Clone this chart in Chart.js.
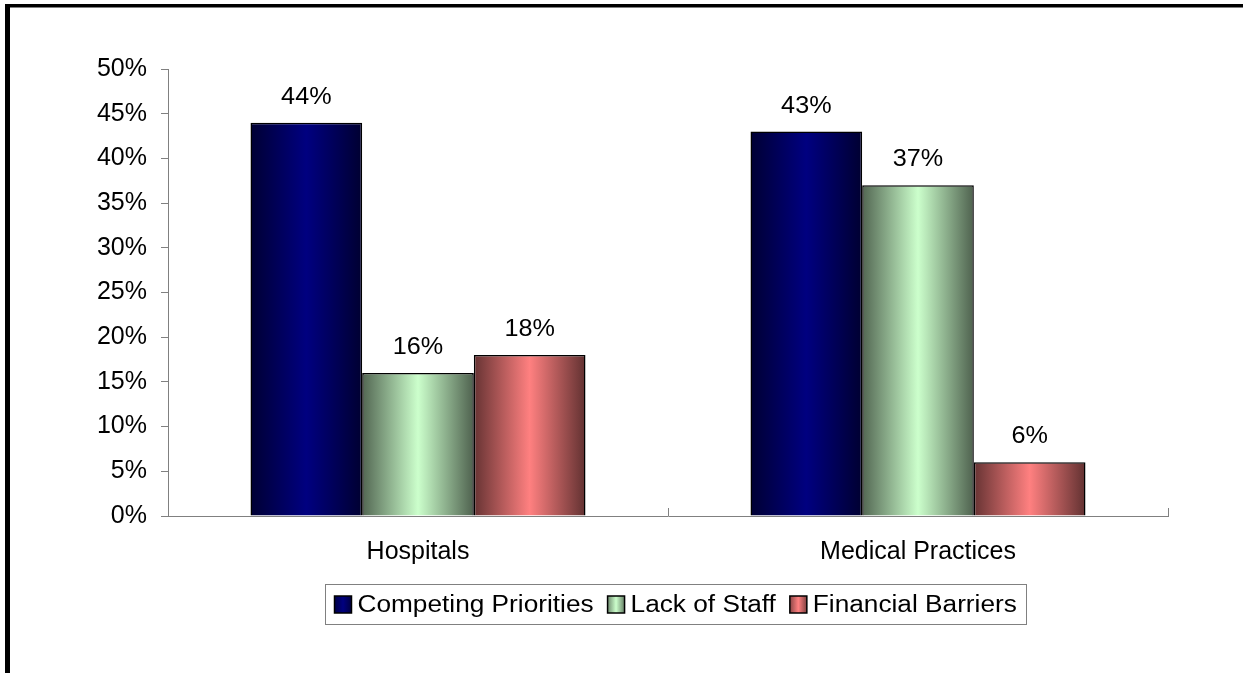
<!DOCTYPE html>
<html>
<head>
<meta charset="utf-8">
<script src="https://cdn.jsdelivr.net/npm/chart.js@4"></script>
<style>
  html, body { margin: 0; padding: 0; background: #fff; }
  #wrap { position: relative; width: 1243px; height: 673px; }
</style>
</head>
<body>
<div id="wrap"><canvas id="barCanvas" width="1243" height="673"></canvas></div>
<script>
const categories = ["Hospitals", "Medical Practices"];
const seriesNames = ["Competing Priorities", "Lack of Staff", "Financial Barriers"];
const competingPriorities = [44, 43];
const lackOfStaff = [16, 37];
const financialBarriers = [18, 6];
const seriesColors = ["#000080", "#CCFFCC", "#FF8080"];

const FONT = "'Liberation Sans', Arial, sans-serif";

function shade(hex, f) {
  const n = parseInt(hex.slice(1), 16);
  const r = Math.round(((n >> 16) & 255) * f);
  const g = Math.round(((n >> 8) & 255) * f);
  const b = Math.round((n & 255) * f);
  return `rgb(${r}, ${g}, ${b})`;
}

// dark edges, full colour in the middle
function barGradient(ctx, bar, color) {
  const left = bar.x - bar.width / 2;
  const right = bar.x + bar.width / 2;
  const g = ctx.createLinearGradient(left, 0, right, 0);
  g.addColorStop(0, shade(color, 0.4));
  g.addColorStop(0.5, color);
  g.addColorStop(1, shade(color, 0.38));
  return g;
}

// text drawn a little wider than the font's natural width
function wideText(ctx, text, x, y, sx) {
  ctx.save();
  ctx.translate(x, y);
  ctx.scale(sx, 1);
  ctx.fillText(text, 0, 0);
  ctx.restore();
}

const barShading = {
  id: 'barShading',
  beforeDatasetsDraw(chart) {
    chart.data.datasets.forEach((ds, i) => {
      chart.getDatasetMeta(i).data.forEach(bar => {
        bar.options = Object.assign({}, bar.options, {
          backgroundColor: barGradient(chart.ctx, bar, seriesColors[i])
        });
      });
    });
  }
};

const valueLabels = {
  id: 'valueLabels',
  afterDatasetsDraw(chart) {
    const ctx = chart.ctx;
    ctx.save();
    ctx.font = `24px ${FONT}`;
    ctx.fillStyle = '#000';
    ctx.textAlign = 'center';
    ctx.textBaseline = 'alphabetic';
    chart.data.datasets.forEach((ds, i) => {
      chart.getDatasetMeta(i).data.forEach((bar, j) => {
        wideText(ctx, ds.data[j] + '%', bar.x, bar.y - 19, 1.05);
      });
    });
    ctx.restore();
  }
};

// short marks between categories, pointing up into the plot
const categoryTicks = {
  id: 'categoryTicks',
  afterDraw(chart) {
    const x = chart.scales.x;
    const ctx = chart.ctx;
    const marks = [x.left, (x.getPixelForValue(0) + x.getPixelForValue(1)) / 2, x.right];
    ctx.save();
    ctx.strokeStyle = '#808080';
    ctx.lineWidth = 1;
    ctx.beginPath();
    marks.forEach(px => {
      const p = Math.round(px) + 0.5;
      ctx.moveTo(p, x.top - 8);
      ctx.lineTo(p, x.top);
    });
    ctx.stroke();
    ctx.restore();
  }
};

const boxedLegend = {
  id: 'boxedLegend',
  afterDraw(chart) {
    const ctx = chart.ctx;
    const sx = 1.14;
    ctx.save();
    ctx.font = `23px ${FONT}`;
    const sw = 17, gapText = 6, gapItem = 14, padL = 9, padR = 10;
    const widths = seriesNames.map(t => ctx.measureText(t).width * sx);
    let total = padL + padR;
    widths.forEach((w, i) => { total += sw + gapText + w + (i < widths.length - 1 ? gapItem : 0); });
    total = Math.round(total);
    const boxLeft = Math.round(675 - total / 2) + 0.5;
    const boxTop = 584.5, boxH = 40;
    ctx.fillStyle = '#fff';
    ctx.fillRect(boxLeft, boxTop, total, boxH);
    ctx.strokeStyle = '#808080';
    ctx.lineWidth = 1;
    ctx.strokeRect(boxLeft, boxTop, total, boxH);
    let cx = boxLeft + padL;
    const midY = boxTop + boxH / 2;
    seriesNames.forEach((name, i) => {
      const g = ctx.createLinearGradient(cx, 0, cx + sw, 0);
      g.addColorStop(0, shade(seriesColors[i], 0.55));
      g.addColorStop(0.5, seriesColors[i]);
      g.addColorStop(1, shade(seriesColors[i], 0.5));
      ctx.fillStyle = g;
      ctx.fillRect(cx, midY - sw / 2, sw, sw);
      ctx.strokeStyle = '#000';
      ctx.lineWidth = 1.5;
      ctx.strokeRect(cx, midY - sw / 2, sw, sw);
      ctx.fillStyle = '#000';
      ctx.textAlign = 'left';
      ctx.textBaseline = 'middle';
      wideText(ctx, name, cx + sw + gapText, midY + 1, sx);
      cx += sw + gapText + widths[i] + gapItem;
    });
    ctx.restore();
  }
};

const frame = {
  id: 'frame',
  beforeDraw(chart) {
    const ctx = chart.ctx;
    ctx.save();
    ctx.fillStyle = '#fff';
    ctx.fillRect(0, 0, chart.width, chart.height);
    ctx.restore();
  },
  afterDraw(chart) {
    const ctx = chart.ctx;
    ctx.save();
    ctx.fillStyle = '#000';
    ctx.fillRect(5, 4, chart.width - 5, 3.5);
    ctx.fillRect(5, 4, 5, chart.height - 4);
    ctx.restore();
  }
};

const data = {
  labels: categories,
  datasets: [
    { label: seriesNames[0], data: competingPriorities, backgroundColor: seriesColors[0] },
    { label: seriesNames[1], data: lackOfStaff, backgroundColor: seriesColors[1] },
    { label: seriesNames[2], data: financialBarriers, backgroundColor: seriesColors[2] }
  ].map(ds => Object.assign(ds, {
    borderColor: '#000',
    borderWidth: 1.5,
    borderSkipped: 'bottom',
    categoryPercentage: 0.67,
    barPercentage: 1
  }))
};

const config = {
  type: 'bar',
  data: data,
  options: {
    responsive: false,
    devicePixelRatio: 1,
    animation: false,
    layout: { padding: { top: 69, right: 75, bottom: 0, left: 0 } },
    plugins: {
      legend: { display: false },
      tooltip: { enabled: false }
    },
    scales: {
      x: {
        grid: { display: false, drawTicks: false },
        border: { display: true, color: '#808080', width: 1 },
        ticks: { color: '#000', padding: 21, font: { family: FONT, size: 25 } },
        afterFit(scale) { scale.height = 157; }
      },
      y: {
        min: 0,
        max: 50,
        grid: { display: true, drawOnChartArea: false, drawTicks: true, tickLength: 7, color: '#808080' },
        border: { display: true, color: '#808080', width: 1 },
        ticks: {
          stepSize: 5,
          color: '#000',
          padding: 14,
          font: { family: FONT, size: 25 },
          callback: v => v + '%'
        },
        afterFit(scale) { scale.width = 168; }
      }
    }
  },
  plugins: [frame, barShading, valueLabels, categoryTicks, boxedLegend]
};

const canvas = document.getElementById("barCanvas");
if (canvas) {
  new Chart(canvas.getContext("2d"), config);
} else {
  console.error("Canvas not found.");
}
</script>
</body>
</html>
